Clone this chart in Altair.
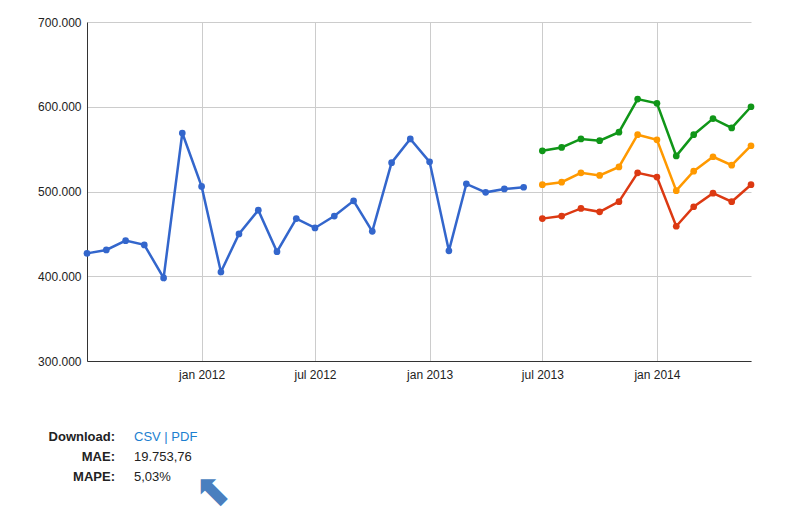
import altair as alt
import pandas as pd

hist_months = pd.date_range("2011-07-01", "2013-06-01", freq="MS").strftime("%Y-%m-%d").tolist()
hist_values = [427, 431, 442, 437, 398, 569, 506, 405, 450, 478, 429, 468,
               457, 471, 489, 453, 534, 562, 535, 430, 509, 499, 503, 505]

fc_months = pd.date_range("2013-07-01", "2014-06-01", freq="MS").strftime("%Y-%m-%d").tolist()
upper = [548, 552, 562, 560, 570, 609, 604, 542, 567, 586, 575, 600]
mid = [508, 511, 522, 519, 529, 567, 561, 501, 524, 541, 531, 554]
lower = [468, 471, 480, 476, 488, 522, 517, 459, 482, 498, 488, 508]

rows = [{"date": d, "value": v * 1000, "series": "hist"} for d, v in zip(hist_months, hist_values)]
for name, vals in [("upper", upper), ("mid", mid), ("lower", lower)]:
    rows += [{"date": d, "value": v * 1000, "series": name} for d, v in zip(fc_months, vals)]
df = pd.DataFrame(rows)

ticks = [alt.DateTime(year=y, month=m, date=1, utc=True)
         for y, m in [(2012, 1), (2012, 7), (2013, 1), (2013, 7), (2014, 1)]]
font = "Liberation Sans"

color = alt.Color("series:N", legend=None,
                  scale=alt.Scale(domain=["hist", "upper", "mid", "lower"],
                                  range=["#3366cc", "#109618", "#ff9900", "#dc3912"]))

base = alt.Chart(df).encode(
    x=alt.X("date:T", title=None,
            scale=alt.Scale(domain=[alt.DateTime(year=2011, month=7, date=1, utc=True),
                                    alt.DateTime(year=2014, month=6, date=1, utc=True)]),
            axis=alt.Axis(values=ticks, labelExpr="lower(utcFormat(datum.value, '%b %Y'))",
                          grid=True, gridColor="#cccccc", domainColor="#333", ticks=False,
                          labelPadding=8, labelFont=font, labelFontSize=12, labelColor="#222")),
    y=alt.Y("value:Q", title=None,
            scale=alt.Scale(domain=[300000, 700000]),
            axis=alt.Axis(values=[300000, 400000, 500000, 600000, 700000],
                          labelExpr="replace(format(datum.value, ',.0f'), ',', '.')",
                          gridColor="#cccccc", domainColor="#333", ticks=False,
                          labelPadding=6, labelFont=font, labelFontSize=12, labelColor="#222")),
    color=color,
    detail="series:N",
)

lines = base.mark_line(strokeWidth=2.5)
points = base.mark_circle(size=45, opacity=1)

labels = pd.DataFrame({
    "k": ["Download:", "MAE:", "MAPE:"],
    "v": ["", "19.753,76", "5,03%"],
    "yy": [415, 435, 455],
})
keys = alt.Chart(labels).mark_text(align="right", fontWeight="bold", font=font, fontSize=13,
                                   color="#222").encode(
    x=alt.value(28), y="yy:Q", text="k:N")
keys = alt.Chart(labels).mark_text(align="right", fontWeight="bold", font=font, fontSize=13,
                                   color="#222").encode(
    x=alt.value(28), y=alt.Y("yy:Q", scale=None), text="k:N")
vals = alt.Chart(labels).mark_text(align="left", font=font, fontSize=13, color="#222").encode(
    x=alt.value(47), y=alt.Y("yy:Q", scale=None), text="v:N")
link = alt.Chart(pd.DataFrame({"t": ["CSV | PDF"]})).mark_text(
    align="left", font=font, fontSize=13, color="#1c7fd0").encode(
    x=alt.value(47), y=alt.value(415), text="t:N")
arrow = alt.Chart(pd.DataFrame({"t": ["⬉"]})).mark_text(
    font="DejaVu Sans", fontSize=44, color="#4a7fbf").encode(
    x=alt.value(126), y=alt.value(470), text="t:N")

chart = alt.layer(lines, points, keys, vals, link, arrow).properties(
    width=664, height=339, autosize="none",
    padding={"left": 79, "top": 14, "right": 48, "bottom": 160},
).configure_view(stroke=None)

chart.save("out.html", embed_options={"renderer": "svg", "actions": False})
